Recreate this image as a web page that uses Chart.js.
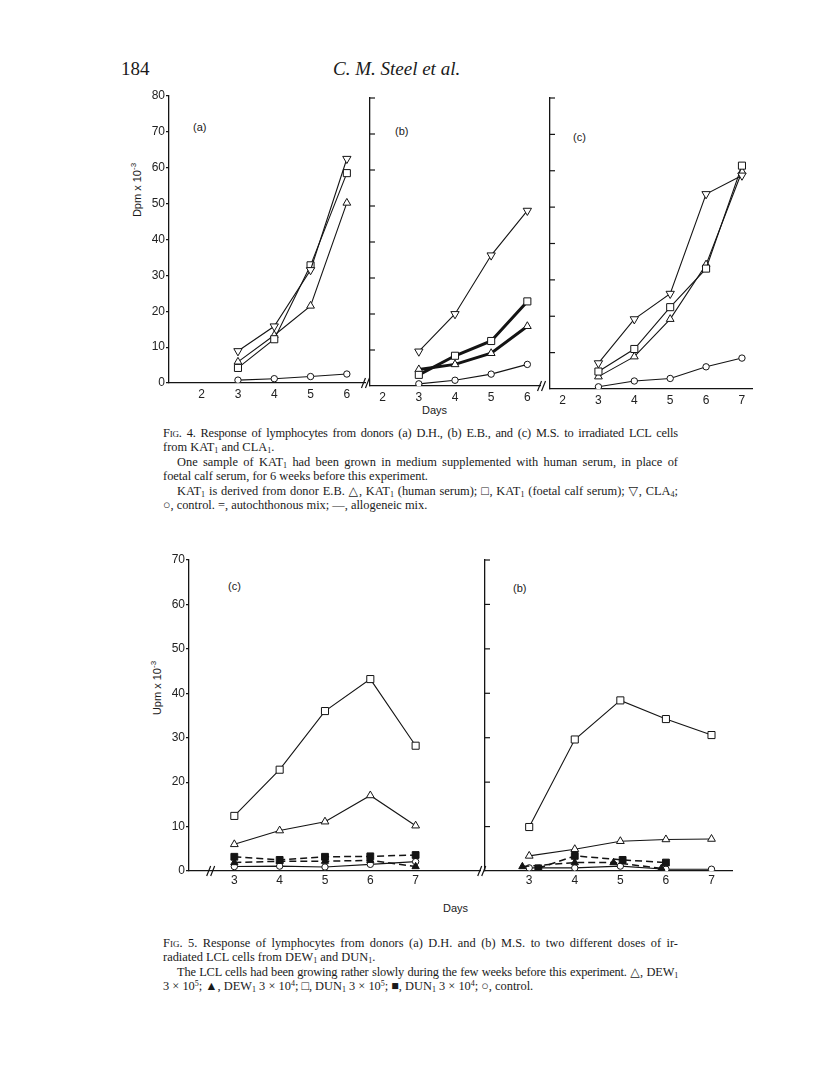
<!DOCTYPE html>
<html>
<head>
<meta charset="utf-8">
<script src="https://cdn.jsdelivr.net/npm/chart.js@4/dist/chart.umd.min.js"></script>
<style>
  html, body { margin: 0; padding: 0; background: #fff; }
  body { position: relative; width: 816px; height: 1085px; overflow: hidden; color: #1a1a1a; }
  .panel { position: absolute; }
  .txt { position: absolute; white-space: nowrap; }
  .sans { font-family: 'Liberation Sans', 'DejaVu Sans', sans-serif; }
  .serif { font-family: 'Liberation Serif', 'DejaVu Serif', serif; }
  .ytitle { position: absolute; transform: translate(-50%, -50%) rotate(-90deg); white-space: nowrap; font-size: 11px; }
  .cap { position: absolute; left: 163px; width: 515px; font-family: 'Liberation Serif', 'DejaVu Serif', serif; font-size: 12.4px; line-height: 14.4px; }
  .cap div { white-space: nowrap; }
  .cap .j { text-align: justify; text-align-last: justify; }
  .cap .tight { letter-spacing: -0.18px; }
  .cap .in { text-indent: 14px; }
  .cap sub { font-size: 8px; vertical-align: -2px; line-height: 0; }
  .cap sup { font-size: 8px; vertical-align: 4px; line-height: 0; }
  .sc { font-variant: small-caps; }
</style>
</head>
<body>

<div class="txt serif" style="left:121px; top:58px; font-size:19px; line-height:22px;">184</div>
<div class="txt serif" style="left:333px; top:58px; font-size:19px; line-height:22px; font-style:italic;">C. M. Steel et al.</div>

<div class="ytitle sans" style="left:136px; top:190px;">Dpm x 10<sup style="font-size:8px">-3</sup></div>
<div class="txt sans" style="left:193px; top:121px; font-size:11px;">(a)</div>
<div class="txt sans" style="left:395px; top:125px; font-size:11px;">(b)</div>
<div class="txt sans" style="left:573px; top:131px; font-size:11px;">(c)</div>
<div class="txt sans" style="left:422px; top:404px; font-size:11px;">Days</div>

<div class="cap" style="top:426px;">
  <div class="j tight"><span class="sc">Fig</span>. 4. Response of lymphocytes from donors (a) D.H., (b) E.B., and (c) M.S. to irradiated LCL cells</div>
  <div>from KAT<sub>1</sub> and CLA<sub>1</sub>.</div>
  <div class="j in">One sample of KAT<sub>1</sub> had been grown in medium supplemented with human serum, in place of</div>
  <div>foetal calf serum, for 6 weeks before this experiment.</div>
  <div class="j in">KAT<sub>1</sub> is derived from donor E.B. △, KAT<sub>1</sub> (human serum); □, KAT<sub>1</sub> (foetal calf serum); ▽, CLA<sub>4</sub>;</div>
  <div>○, control. =, autochthonous mix; —, allogeneic mix.</div>
</div>

<div class="ytitle sans" style="left:156px; top:688px;">Upm x 10<sup style="font-size:8px">-3</sup></div>
<div class="txt sans" style="left:228px; top:580px; font-size:11px;">(c)</div>
<div class="txt sans" style="left:513px; top:582px; font-size:11px;">(b)</div>
<div class="txt sans" style="left:443px; top:902px; font-size:11px;">Days</div>

<div class="cap" style="top:936px;">
  <div class="j"><span class="sc">Fig</span>. 5. Response of lymphocytes from donors (a) D.H. and (b) M.S. to two different doses of ir-</div>
  <div>radiated LCL cells from DEW<sub>1</sub> and DUN<sub>1</sub>.</div>
  <div class="j in tight">The LCL cells had been growing rather slowly during the few weeks before this experiment. △, DEW<sub>1</sub></div>
  <div>3 × 10<sup>5</sup>; ▲, DEW<sub>1</sub> 3 × 10<sup>4</sup>; □, DUN<sub>1</sub> 3 × 10<sup>5</sup>; ■, DUN<sub>1</sub> 3 × 10<sup>4</sup>; ○, control.</div>
</div>

<script>
// ---- Fig. 4 data (Dpm x 10^-3 by day) ----
const fig4Days = [3, 4, 5, 6];
const fig4DaysC = [3, 4, 5, 6, 7];
const fig4XTicks = [2, 3, 4, 5, 6];
const fig4XTicksC = [2, 3, 4, 5, 6, 7];
const fig4YTicks = [0, 10, 20, 30, 40, 50, 60, 70, 80];

// panel (a) D.H.
const aHuman = [5.9, 13.3, 21.5, 50.2];   // triangle, KAT1 human serum
const aFoetal = [4.2, 12.2, 32.8, 58.5];  // square, KAT1 foetal calf serum
const aCla = [8.9, 15.8, 31.5, 62.5];     // inverted triangle, CLA
const aControl = [0.8, 1.2, 1.8, 2.5];

// panel (b) E.B. (autochthonous for KAT1)
const bHuman = [4.6, 6.0, 9.1, 16.6];
const bFoetal = [3.1, 8.4, 12.5, 23.5];
const bCla = [9.6, 20.0, 36.3, 48.7];
const bControl = [0.6, 1.6, 3.3, 6.0];

// panel (c) M.S.
const cHuman = [3.4, 8.9, 19.2, 34.2, 59.8];
const cFoetal = [4.8, 11.0, 22.5, 33.1, 61.4];
const cCla = [7.1, 19.2, 26.2, 53.6, 58.7];
const cControl = [0.6, 2.2, 2.9, 6.1, 8.5];

// ---- Fig. 5 data ----
const fig5Days = [3, 4, 5, 6, 7];
const fig5XTicks = [3, 4, 5, 6, 7];
const fig5YTicks = [0, 10, 20, 30, 40, 50, 60, 70];

// first panel (labelled "(c)")
const pDew5 = [6.0, 9.1, 11.1, 17.0, 10.2];
const pDew4 = [1.9, 2.2, 2.2, 2.4, 1.0];
const pDun5 = [12.4, 22.8, 36.0, 43.2, 28.2];
const pDun4 = [3.2, 2.5, 3.2, 3.3, 3.6];
const pControl = [1.0, 1.1, 0.9, 1.5, 2.1];

// second panel "(b)"
const qDew5 = [3.4, 4.9, 6.7, 7.1, 7.2];
const qDew4Days = [2.85, 4, 4.85, 5.9];
const qDew4 = [1.0, 1.9, 1.9, 0.6];
const qDun5 = [9.9, 29.6, 38.4, 34.2, 30.6];
const qDun4Days = [3.2, 4, 5.05, 6];
const qDun4 = [0.6, 3.4, 2.5, 1.9];
const qControl = [0.7, 0.7, 1.1, 0.4, 0.4];

const INK = '#141414';

// inward y ticks and "//" axis breaks
const extras = {
  id: 'extras',
  afterDraw(chart, args, o) {
    const { ctx, chartArea: a, scales: { x, y } } = chart;
    ctx.save();
    ctx.strokeStyle = INK;
    ctx.lineWidth = 1.2;
    if (o.inward) {
      y.ticks.forEach(t => {
        if (t.value === 0) return;
        const py = y.getPixelForValue(t.value);
        ctx.beginPath();
        ctx.moveTo(a.left, py);
        ctx.lineTo(a.left + 5, py);
        ctx.stroke();
      });
    }
    (o.breaks || []).forEach(v => {
      const px = x.getPixelForValue(v);
      const by = a.bottom;
      ctx.beginPath();
      ctx.moveTo(px - 5, by + 5); ctx.lineTo(px - 1, by - 5);
      ctx.moveTo(px - 1, by + 5); ctx.lineTo(px + 3, by - 5);
      ctx.stroke();
    });
    ctx.restore();
  }
};
Chart.register(extras);

function series(days, vals, kind, opts = {}) {
  const styles = {
    tri: { pointStyle: 'triangle', radius: 4.5, fill: '#fff' },
    inv: { pointStyle: 'triangle', radius: 4.8, fill: '#fff', rot: 180 },
    sq: { pointStyle: 'rect', radius: 5, fill: '#fff' },
    circ: { pointStyle: 'circle', radius: 3.2, fill: '#fff' },
    triF: { pointStyle: 'triangle', radius: 4.2, fill: INK },
    sqF: { pointStyle: 'rect', radius: 4.8, fill: INK }
  };
  const s = styles[kind];
  return {
    data: days.map((d, i) => ({ x: d, y: vals[i] })),
    borderColor: INK,
    borderWidth: opts.width || 1.1,
    borderDash: opts.dash || [],
    pointStyle: s.pointStyle,
    pointRadius: s.radius,
    pointRotation: s.rot || 0,
    pointBackgroundColor: s.fill,
    pointBorderColor: INK,
    pointBorderWidth: 1,
    tension: 0
  };
}

function config(p) {
  return {
    type: 'line',
    data: { datasets: p.datasets },
    options: {
      responsive: false,
      animation: false,
      events: [],
      layout: { padding: { top: 12, right: 10, bottom: 4, left: 0 } },
      plugins: {
        legend: { display: false },
        tooltip: { enabled: false },
        extras: { inward: !p.yLabels, breaks: p.breaks }
      },
      scales: {
        x: {
          type: 'linear', min: p.xMin, max: p.xMax,
          afterBuildTicks: s => { s.ticks = p.xTicks.map(v => ({ value: v })); },
          afterFit: s => { s.height = 24; },
          grid: { display: false, drawTicks: false, tickLength: 0 },
          border: { color: INK, width: 1.3 },
          ticks: { color: '#222', font: { family: 'Liberation Sans', size: 12 }, padding: p.xPad, maxRotation: 0 }
        },
        y: {
          min: 0, max: p.yMax,
          afterBuildTicks: s => { s.ticks = p.yTicks.map(v => ({ value: v })); },
          afterFit: s => { s.width = p.yLabels ? 40 : 4; },
          grid: { display: !!p.yLabels, drawOnChartArea: false, tickLength: 3, color: INK, lineWidth: 1.2 },
          border: { color: INK, width: 1.3 },
          ticks: { display: !!p.yLabels, color: '#222', font: { family: 'Liberation Sans', size: 12 }, padding: 1 }
        }
      }
    }
  };
}

// draw the panel so that its plot area lands on the given page box
function makePanel(p) {
  const wrap = document.createElement('div');
  wrap.className = 'panel';
  document.body.appendChild(wrap);
  let canvas = document.createElement('canvas');
  canvas.width = p.area.w + 80;
  canvas.height = p.area.h + 60;
  wrap.appendChild(canvas);
  let chart = new Chart(canvas, config(p()));
  const ca = chart.chartArea;
  const W = Math.round(canvas.width + p.area.w - (ca.right - ca.left));
  const H = Math.round(canvas.height + p.area.h - (ca.bottom - ca.top));
  chart.destroy();
  wrap.removeChild(canvas);
  canvas = document.createElement('canvas');
  canvas.width = W;
  canvas.height = H;
  wrap.appendChild(canvas);
  chart = new Chart(canvas, config(p()));
  wrap.style.left = (p.area.x - chart.chartArea.left) + 'px';
  wrap.style.top = (p.area.y - chart.chartArea.top) + 'px';
  return chart;
}

function panel(area, build) {
  const f = () => Object.assign({}, build(), { area });
  f.area = area;
  return f;
}

// Fig. 4 (a)
makePanel(panel({ x: 169, y: 96, w: 195.5, h: 287 }, () => ({
  xMin: 1.1, xMax: 6.5, xTicks: fig4XTicks, xPad: 4, yMax: 80, yTicks: fig4YTicks, yLabels: true,
  breaks: [6.54],
  datasets: [
    series(fig4Days, aCla, 'inv'),
    series(fig4Days, aFoetal, 'sq'),
    series(fig4Days, aHuman, 'tri'),
    series(fig4Days, aControl, 'circ')
  ]
})));

// Fig. 4 (b)
makePanel(panel({ x: 370, y: 98, w: 170.4, h: 288 }, () => ({
  xMin: 1.65, xMax: 6.35, xTicks: fig4XTicks, xPad: 4, yMax: 80, yTicks: fig4YTicks, yLabels: false,
  breaks: [6.42],
  datasets: [
    series(fig4Days, bCla, 'inv'),
    series(fig4Days, bFoetal, 'sq', { width: 3 }),
    series(fig4Days, bHuman, 'tri', { width: 3 }),
    series(fig4Days, bControl, 'circ')
  ]
})));

// Fig. 4 (c)
makePanel(panel({ x: 550, y: 98, w: 202, h: 291 }, () => ({
  xMin: 1.65, xMax: 7.28, xTicks: fig4XTicksC, xPad: 4, yMax: 80, yTicks: fig4YTicks, yLabels: false,
  breaks: [],
  datasets: [
    series(fig4DaysC, cCla, 'inv'),
    series(fig4DaysC, cFoetal, 'sq'),
    series(fig4DaysC, cHuman, 'tri'),
    series(fig4DaysC, cControl, 'circ')
  ]
})));

// Fig. 5 first panel
makePanel(panel({ x: 189, y: 560, w: 291, h: 311 }, () => ({
  xMin: 2.0, xMax: 8.42, xTicks: fig5XTicks, xPad: 2, yMax: 70, yTicks: fig5YTicks, yLabels: true,
  breaks: [2.5, 8.48],
  datasets: [
    series(fig5Days, pDun5, 'sq'),
    series(fig5Days, pDew5, 'tri'),
    series(fig5Days, pDun4, 'sqF', { dash: [7, 4], width: 1.5 }),
    series(fig5Days, pDew4, 'triF', { dash: [7, 4], width: 1.5 }),
    series(fig5Days, pControl, 'circ')
  ]
})));

// Fig. 5 second panel
makePanel(panel({ x: 485, y: 560, w: 246.6, h: 311 }, () => ({
  xMin: 2.03, xMax: 7.45, xTicks: fig5XTicks, xPad: 2, yMax: 70, yTicks: fig5YTicks, yLabels: false,
  breaks: [],
  datasets: [
    series(fig5Days, qDun5, 'sq'),
    series(fig5Days, qDew5, 'tri'),
    series(qDun4Days, qDun4, 'sqF', { dash: [7, 4], width: 1.5 }),
    series(qDew4Days, qDew4, 'triF', { dash: [7, 4], width: 1.5 }),
    series(fig5Days, qControl, 'circ')
  ]
})));
</script>
</body>
</html>
